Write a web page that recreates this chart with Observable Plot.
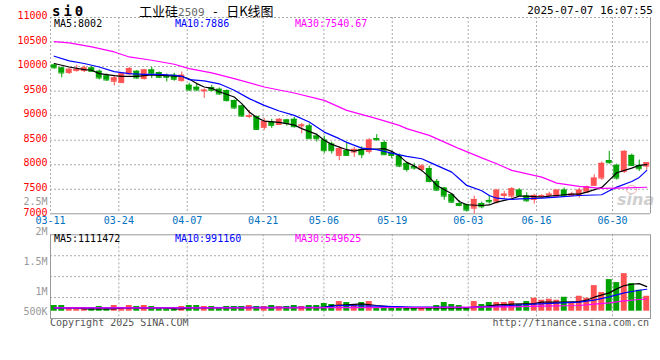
<!DOCTYPE html>
<html><head><meta charset="utf-8">
<script src="https://cdn.jsdelivr.net/npm/d3@7"></script>
<script src="https://cdn.jsdelivr.net/npm/@observablehq/plot@0.6"></script>
<style>
body{margin:0;background:#fff;}
#wrap{position:relative;width:660px;height:360px;overflow:hidden;background:#fff;font-family:"DejaVu Sans Mono",monospace;}
#wrap svg{position:absolute;left:0;top:0;}
.t{position:absolute;white-space:nowrap;}
</style></head><body><div id="wrap">
<div class="t" style="left:52px;top:3px;font:bold 14px 'DejaVu Sans Mono';letter-spacing:3px;color:#000">si0</div>
<div class="t" style="left:139px;top:1px;font:13px 'Noto Sans CJK SC';color:#000">工业硅<span style="font:11px 'DejaVu Sans Mono';color:#666">2509</span><span style="font:12px 'DejaVu Sans Mono'"> - </span>日K线图</div>
<div class="t" style="right:7px;top:4px;font:11px 'DejaVu Sans Mono';color:#000">2025-07-07 16:07:55</div>
<div class="t" style="left:50px;top:317px;font:10px 'DejaVu Sans Mono';color:#555">Copyright 2025 SINA.COM</div>
<div class="t" style="right:11px;top:317px;font:10px 'DejaVu Sans Mono';color:#555">http://finance.sina.com.cn</div>
<div class="t" style="left:626px;top:185px;width:9px;height:7px;border:1.5px solid #f2b4b4;border-radius:50%"></div>
<div class="t" style="left:617px;top:190px;font:italic bold 16px 'DejaVu Sans';color:#cfcfcf">sina</div>
</div>
<script>
// ---------- data ----------
const dates = ["03-11","03-12","03-13","03-14","03-17","03-18","03-19","03-20","03-21","03-24","03-25","03-26","03-27","03-28","03-31",
"04-01","04-02","04-03","04-07","04-08","04-09","04-10","04-11","04-14","04-15","04-16","04-17","04-18","04-21","04-22","04-23","04-24","04-25","04-28","04-29","04-30",
"05-06","05-07","05-08","05-09","05-12","05-13","05-14","05-15","05-16","05-19","05-20","05-21","05-22","05-23","05-26","05-27","05-28","05-29","05-30",
"06-03","06-04","06-05","06-06","06-09","06-10","06-11","06-12","06-13","06-16","06-17","06-18","06-19","06-20","06-23","06-24","06-25","06-26","06-27","06-30",
"07-01","07-02","07-03","07-04","07-07"];
const open  = [10030,9972,9878,9918,9918,9972,9904,9809,9700,9673,9850,9904,9755,9931,9877,9809,9823,9714,9619,9578,9505,9571,9537,9510,9306,9197,8985,8980,8761,8870,8820,8911,8925,8790,8788,8584,8502,8420,8190,8286,8257,8312,8272,8530,8450,8230,8176,8027,7960,7904,7918,7660,7523,7388,7210,7184,7115,7210,7272,7240,7374,7360,7482,7360,7292,7350,7380,7360,7482,7374,7374,7440,7578,7727,8082,7986,7863,8190,7986,7972];
const close = [9975,9870,9945,9945,9972,9904,9768,9727,9768,9850,9959,9768,9931,9850,9782,9782,9741,9823,9523,9523,9520,9517,9442,9306,9156,8992,8995,8720,8884,8802,8925,8843,8775,8810,8530,8530,8286,8286,8327,8190,8312,8204,8502,8510,8204,8190,7972,7904,7932,7972,7660,7482,7360,7237,7170,7074,7292,7143,7245,7480,7400,7510,7374,7265,7374,7370,7400,7482,7360,7400,7482,7550,7727,8027,8041,7727,8272,7986,7918,8040];
const high  = [10053,9990,9972,10027,10012,10000,9931,9850,9823,9877,9986,9918,9945,9986,9890,9850,9863,9890,9660,9660,9547,9619,9565,9523,9320,9211,9103,8993,8940,8925,8938,8925,8966,8840,8830,8625,8584,8461,8367,8450,8354,8367,8531,8612,8490,8272,8217,8054,8027,8000,7972,7700,7537,7415,7265,7197,7360,7238,7374,7500,7455,7537,7510,7428,7400,7390,7440,7482,7523,7440,7523,7565,7796,8054,8272,8013,8286,8217,8095,8040];
const low   = [9945,9770,9837,9890,9878,9890,9727,9700,9605,9660,9823,9741,9727,9755,9755,9686,9700,9686,9490,9490,9353,9483,9415,9279,9130,8965,8940,8700,8700,8740,8808,8788,8747,8630,8530,8461,8230,8217,8082,8175,8150,8122,8217,8477,8190,8122,7940,7850,7890,7850,7632,7455,7278,7210,7143,7033,7000,7100,7197,7200,7306,7306,7360,7237,7197,7330,7347,7320,7333,7347,7320,7428,7565,7686,8013,7686,7822,7972,7863,7890];
const volume = [256000,256000,166000,166000,166000,135000,212000,135000,256000,166000,256000,212000,256000,212000,166000,166000,166000,212000,256000,256000,
212000,212000,166000,212000,212000,212000,256000,212000,212000,256000,212000,212000,256000,212000,256000,256000,346000,301000,436000,391000,
301000,391000,436000,135000,180000,135000,180000,135000,135000,135000,135000,256000,391000,301000,256000,135000,436000,301000,391000,391000,
391000,436000,301000,436000,585000,495000,540000,495000,630000,391000,675000,585000,1156000,841000,1426000,1291000,1696000,1246000,945000,675000];

// moving averages (day index, value)
const ma5Day   = [0,2,4,5,6,8,9,11,13,15,17,18,19,20,21,22,24,25,26,27,28,30,31,32,33,35,36,37,39,40,41,43,44,45,46,47,48,49,50,51,53,54,55,57,58,59,61,62,63,65,66,67,69,70,71,73,74,75,77,78,79];
const ma5Val   = [10062,9992,9939,9925,9857,9817,9802,9802,9829,9817,9802,9747,9653,9584,9557,9486,9380,9245,9074,8960,8890,8863,8837,8808,8735,8619,8497,8415,8306,8278,8312,8320,8327,8272,8180,8047,7976,7884,7747,7578,7408,7251,7184,7169,7180,7237,7306,7359,7359,7339,7359,7373,7400,7400,7441,7537,7686,7837,7931,7986,8002];
const ma10Day  = [0,2,4,6,8,10,12,14,16,17,18,20,22,24,26,28,30,32,34,36,38,39,41,43,45,47,49,50,53,54,55,57,58,59,61,62,65,67,70,73,74,75,77,78,79];
const ma10Val  = [10211,10115,10062,9992,9898,9857,9843,9843,9823,9802,9735,9710,9649,9517,9347,9210,9094,9006,8870,8665,8531,8455,8339,8306,8237,8170,8122,8053,7849,7714,7578,7469,7373,7318,7292,7306,7318,7339,7373,7388,7469,7543,7659,7741,7886];
const ma30Day  = [0,2,5,8,10,13,16,18,21,24,28,32,36,39,43,46,47,50,53,54,57,59,61,65,67,70,73,75,79];
const ma30Val  = [10510,10482,10400,10298,10196,10129,10047,9959,9870,9755,9584,9461,9312,9108,8939,8802,8735,8598,8394,8327,8140,8020,7884,7747,7625,7557,7520,7525,7541];
const vma5Day  = [0,3,4,8,9,15,16,17,18,36,37,39,41,43,45,47,52,55,57,59,61,64,65,68,70,71,72,74,75,76,77,78,79];
const vma5Val  = [150000,150000,106000,106000,150000,150000,106000,106000,150000,160000,256000,288000,333000,256000,200000,151000,151000,151000,196000,286000,317000,347000,407000,407000,436000,497000,632000,827000,1007000,1157000,1217000,1247000,1111472];
const vma10Day = [0,20,36,38,43,48,52,55,57,61,64,67,70,72,74,76,78,79];
const vma10Val = [150000,160000,180000,256000,227000,182000,182000,166000,196000,256000,317000,362000,407000,497000,647000,827000,947000,991160];
const vma30Day = [0,20,40,48,56,61,65,70,72,74,76,78,79];
const vma30Val = [151000,151000,160000,166000,182000,196000,227000,256000,317000,376000,467000,527000,549625];

const tickDates = ["03-11","03-24","04-07","04-21","05-06","05-19","06-03","06-16","06-30"];
const priceTicks = [7000,7500,8000,8500,9000,9500,10000,10500,11000];
const volTickValues = [500000,1000000,1500000,2000000,2500000];
const volTickLabels = ["500K","1M","1.5M","2M","2.5M"];
const priceMaLabels = ["MA5:8002","MA10:7886","MA30:7540.67"];
const volMaLabels = ["MA5:1111472","MA10:991160","MA30:549625"];

// ---------- build ----------
const W = 660, H = 360, ML = 50, MR = 10;
const PT = 17, PB = H - 213.3, VT = 234.3, VB = H - 318;
const UP = "#ff5252", DOWN = "#00a300", GRID = "#aaaaaa";
const MA_COLORS = ["#000000", "#0000ff", "#ff00ff"];
const priceDomain = [7000, 11000];
const volDomain = [-330000, 3450000];
const style = {background: "transparent", fontFamily: "DejaVu Sans Mono", fontSize: "10px", overflow: "visible"};
const wrap = document.getElementById("wrap");

const candles = dates.map((d, i) => ({date: d, open: open[i], close: close[i], high: high[i], low: low[i], volume: volume[i], up: close[i] >= open[i]}));
const series = (days, vals, name) => days.map((k, j) => ({date: dates[k], value: vals[j], name}));
const priceMA = [...series(ma5Day, ma5Val, "MA5"), ...series(ma10Day, ma10Val, "MA10"), ...series(ma30Day, ma30Val, "MA30")];
const volMA = [...series(vma5Day, vma5Val, "MA5"), ...series(vma10Day, vma10Val, "MA10"), ...series(vma30Day, vma30Val, "MA30")];
const colorOf = d => d.up ? UP : DOWN;
const maColor = {domain: ["MA5", "MA10", "MA30"], range: MA_COLORS};

// price grid + axes (point scale for date gridlines)
wrap.appendChild(Plot.plot({
  width: W, height: H, marginTop: PT, marginBottom: PB, marginLeft: ML, marginRight: MR, style,
  x: {type: "point", domain: dates, padding: 0, axis: null},
  y: {domain: priceDomain, axis: null},
  marks: [
    Plot.ruleY(priceTicks.slice(1), {stroke: GRID, strokeDasharray: "2,2"}),
    Plot.ruleX(tickDates, {stroke: GRID, strokeDasharray: "2,2"}),
    Plot.ruleY([priceDomain[0]], {stroke: "#999"}),
    Plot.ruleX([dates[dates.length - 1]], {stroke: "#999"}),
    Plot.axisY(priceTicks, {anchor: "left", tickSize: 0, tickPadding: 3, dy: -1.5, fill: "#ff0000", fontSize: 10, tickFormat: d => String(d)}),
    Plot.axisX(tickDates, {anchor: "bottom", tickSize: 0, tickPadding: 3.5, fill: "#0070c0", fontSize: 10})
  ]
}));

// price candles + MA lines
wrap.appendChild(Plot.plot({
  width: W, height: H, marginTop: PT, marginBottom: PB, marginLeft: ML, marginRight: MR, style,
  x: {type: "band", domain: dates, padding: 0, axis: null},
  y: {domain: priceDomain, axis: null},
  color: maColor,
  marks: [
    Plot.ruleX(candles, {x: "date", y1: "low", y2: "high", stroke: colorOf, strokeWidth: 1}),
    Plot.barY(candles, {x: "date", y1: "open", y2: "close", fill: colorOf, insetLeft: 0.8, insetRight: 0.8}),
    Plot.tickY(candles, {x: "date", y: "close", stroke: colorOf, insetLeft: 0.8, insetRight: 0.8}),
    Plot.tickY(candles, {x: "date", y: "open", stroke: colorOf, insetLeft: 0.8, insetRight: 0.8}),
    Plot.line(priceMA, {x: "date", y: "value", z: "name", stroke: "name", strokeWidth: 1.2})
  ]
}));

// volume grid + frame
wrap.appendChild(Plot.plot({
  width: W, height: H, marginTop: VT, marginBottom: VB, marginLeft: ML, marginRight: MR, style,
  x: {type: "point", domain: dates, padding: 0, axis: null},
  y: {domain: volDomain, axis: null},
  marks: [
    Plot.ruleY([1, 2, 3].map(k => volDomain[0] + (volDomain[1] - volDomain[0]) * k / 4), {stroke: GRID, strokeDasharray: "2,2"}),
    Plot.ruleX(tickDates, {stroke: GRID, strokeDasharray: "2,2"}),
    Plot.frame({stroke: "#999"})
  ]
}));

// volume bars + MA lines
wrap.appendChild(Plot.plot({
  width: W, height: H, marginTop: VT, marginBottom: VB, marginLeft: ML, marginRight: MR, style,
  x: {type: "band", domain: dates, padding: 0, axis: null},
  y: {domain: volDomain, axis: null},
  color: maColor,
  marks: [
    Plot.barY(candles, {x: "date", y1: 0, y2: "volume", fill: colorOf, insetLeft: 0.8, insetRight: 0.8}),
    Plot.line(volMA, {x: "date", y: "value", z: "name", stroke: "name", strokeWidth: 1.2})
  ]
}));

// volume axis labels (as placed by the source chart)
wrap.appendChild(Plot.plot({
  width: W, height: H, marginTop: 200, marginBottom: 50, marginLeft: ML, marginRight: MR, style,
  x: {axis: null},
  y: {domain: [666667, 2500000], clamp: true, axis: null},
  marks: [
    Plot.axisY(volTickValues, {anchor: "left", tickSize: 0, tickPadding: 3, dy: 1, fill: "#999", fontSize: 10,
      tickFormat: d => volTickLabels[volTickValues.indexOf(d)]})
  ]
}));

// MA label rows (positioned text)
const labelXs = [54, 175, 295];
function labelRow(texts, top) {
  texts.forEach((t, i) => {
    const el = document.createElement("div");
    el.className = "t";
    el.style.cssText = `left:${labelXs[i]}px;top:${top}px;font:10px 'DejaVu Sans Mono';color:${MA_COLORS[i]}`;
    el.textContent = t;
    wrap.appendChild(el);
  });
}
labelRow(priceMaLabels, 18);
labelRow(volMaLabels, 233);
</script></body></html>
